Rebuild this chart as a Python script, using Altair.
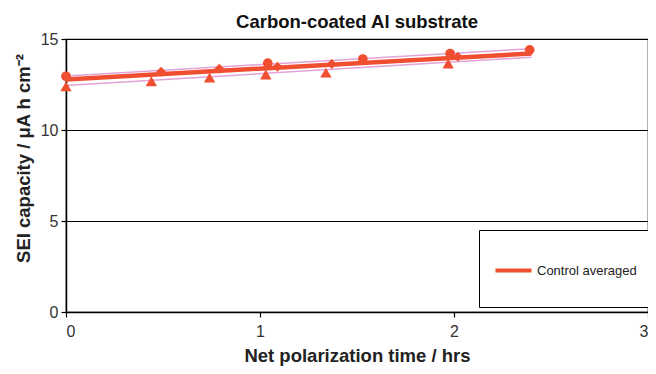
import altair as alt
import pandas as pd

chart_title = "Carbon-coated Al substrate"
x_title = "Net polarization time / hrs"
y_title = "SEI capacity / μA h cm⁻²"
legend_label = "Control averaged"

x_ticks = [0, 1, 2, 3]
y_ticks = [0, 5, 10, 15]

# measured points (three runs, different marker shapes)
circ_t = [0.0, 1.04, 1.53, 1.98, 2.39]
circ_c = [12.95, 13.67, 13.9, 14.2, 14.4]
tri_t = [0.0, 0.44, 0.74, 1.03, 1.34, 1.97]
tri_c = [12.4, 12.68, 12.88, 13.05, 13.15, 13.65]
dia_t = [0.49, 0.79, 1.09, 1.37, 2.02]
dia_c = [13.2, 13.37, 13.47, 13.62, 14.02]

# averaged fit and band lines
fit_t = [0.0, 2.4]
avg_c = [12.78, 14.2]
upper_c = [12.97, 14.47]
lower_c = [12.45, 14.0]

red = "#ef4f30"
pink = "#e2a3d9"
font = "Liberation Sans"

circ_df = pd.DataFrame({"t": circ_t, "cap": circ_c})
tri_df = pd.DataFrame({"t": tri_t, "cap": tri_c})
dia_df = pd.DataFrame({"t": dia_t, "cap": dia_c})
avg_df = pd.DataFrame({"t": fit_t, "cap": avg_c, "series": [legend_label] * len(fit_t)})
band_df = pd.DataFrame({
    "t": fit_t + fit_t,
    "cap": upper_c + lower_c,
    "band": ["upper"] * len(fit_t) + ["lower"] * len(fit_t),
})

x_enc = alt.X(
    "t:Q",
    scale=alt.Scale(domain=[0, 3], nice=False),
    axis=alt.Axis(values=x_ticks, title=x_title, grid=False, format="d",
                  labelPadding=6, titleY=34, titleBaseline="top"),
)
y_enc = alt.Y(
    "cap:Q",
    scale=alt.Scale(domain=[0, 15], nice=False),
    axis=alt.Axis(values=y_ticks, title=y_title, grid=True, gridColor="black",
                  gridWidth=1, gridOpacity=1, labelPadding=3,
                  titleX=-33, titleY=119),
)

band = alt.Chart(band_df).mark_line(color=pink, strokeWidth=1.5).encode(
    x=x_enc, y=y_enc, detail="band:N"
)

avg = alt.Chart(avg_df).mark_line(strokeWidth=4.5).encode(
    x=x_enc,
    y=y_enc,
    color=alt.Color(
        "series:N",
        scale=alt.Scale(domain=[legend_label], range=[red]),
        legend=alt.Legend(
            title=" ",
            titleFontSize=6,
            titlePadding=0,
            orient="none",
            legendX=413,
            legendY=191,
            strokeColor="black",
            fillColor="white",
            padding=14,
            symbolType="stroke",
            symbolStrokeWidth=4,
            symbolSize=1300,
            labelFontSize=13,
            labelFont=font,
            labelColor="#222",
            labelOffset=3,
            labelExpr="[datum.label, '']",
        ),
    ),
)

circles = alt.Chart(circ_df).mark_point(
    filled=True, opacity=1, color=red, size=95, shape="circle"
).encode(x=x_enc, y=y_enc)
triangles = alt.Chart(tri_df).mark_point(
    filled=True, opacity=1, color=red, size=130, shape="triangle-up"
).encode(x=x_enc, y=y_enc)
diamonds = alt.Chart(dia_df).mark_point(
    filled=True, opacity=1, color=red, size=100, shape="diamond"
).encode(x=x_enc, y=y_enc)

chart = (
    alt.layer(band, avg, circles, triangles, diamonds)
    .properties(
        width=582,
        height=273,
        autosize=alt.AutoSizeParams(type="none"),
        padding={"left": 58, "top": 31, "right": 0, "bottom": 54},
        title=alt.TitleParams(chart_title, fontSize=18.5, font=font, fontWeight="bold",
                              anchor="middle", frame="group", offset=0, color="#111"),
    )
    .configure_view(stroke="black", strokeWidth=1.2)
    .configure_axis(
        labelFont=font,
        titleFont=font,
        labelFontSize=16,
        labelColor="#333",
        titleFontSize=18.5,
        titleFontWeight="bold",
        titleColor="#222",
        domainColor="black",
        domainWidth=1.5,
        tickColor="black",
        tickSize=5,
        tickWidth=1.2,
    )
)

chart.save("out.html", embed_options={"renderer": "svg", "actions": False})
